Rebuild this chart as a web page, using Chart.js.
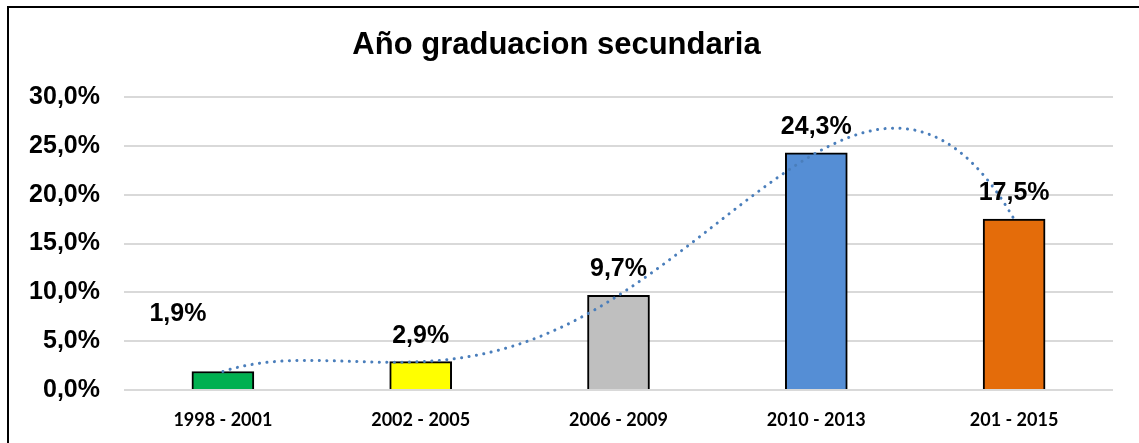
<!DOCTYPE html>
<html>
<head>
<meta charset="utf-8">
<script src="https://cdn.jsdelivr.net/npm/chart.js@4.4.1/dist/chart.umd.min.js"></script>
<style>
  html, body { margin: 0; padding: 0; background: #ffffff; }
  #wrap { width: 1139px; height: 443px; position: relative; }
</style>
</head>
<body>
<div id="wrap"><canvas id="c" width="1139" height="443"></canvas></div>
<script>
const titleText = 'Año graduacion secundaria';
const categories = ['1998 - 2001', '2002 - 2005', '2006 - 2009', '2010 - 2013', '201 - 2015'];
const values = [1.9, 2.9, 9.7, 24.3, 17.5];
const barColors = ['#00b050', '#ffff00', '#bfbfbf', '#558ed5', '#e46c0a'];
const yTicks = [0, 5, 10, 15, 20, 25, 30];

// Polynomial (order 4) least-squares trendline of the series, as the spreadsheet's trendline
function polyFit(xs, ys, order) {
  const n = order + 1;
  const A = [], b = [];
  for (let i = 0; i < n; i++) {
    A.push([]);
    for (let j = 0; j < n; j++) {
      let s = 0;
      xs.forEach(x => { s += Math.pow(x, i + j); });
      A[i].push(s);
    }
    let t = 0;
    xs.forEach((x, k) => { t += Math.pow(x, i) * ys[k]; });
    b.push(t);
  }
  for (let c = 0; c < n; c++) {
    let p = c;
    for (let r = c + 1; r < n; r++) if (Math.abs(A[r][c]) > Math.abs(A[p][c])) p = r;
    [A[c], A[p]] = [A[p], A[c]]; [b[c], b[p]] = [b[p], b[c]];
    for (let r = c + 1; r < n; r++) {
      const f = A[r][c] / A[c][c];
      for (let k = c; k < n; k++) A[r][k] -= f * A[c][k];
      b[r] -= f * b[c];
    }
  }
  const coef = new Array(n).fill(0);
  for (let r = n - 1; r >= 0; r--) {
    let s = b[r];
    for (let k = r + 1; k < n; k++) s -= A[r][k] * coef[k];
    coef[r] = s / A[r][r];
  }
  return x => coef.reduce((acc, c, i) => acc + c * Math.pow(x, i), 0);
}
const xIdx = values.map((v, i) => i);
const trendFn = polyFit(xIdx, values, 4);
const trendPoints = [];
for (let k = 0; k <= 200; k++) {
  const x = (values.length - 1) * k / 200;
  trendPoints.push({ x: x, y: trendFn(x) });
}

const fmt = v => v.toFixed(1).replace('.', ',') + '%';

const frame = {
  id: 'frame',
  beforeDraw(chart) {
    const ctx = chart.ctx;
    ctx.save();
    ctx.fillStyle = '#ffffff';
    ctx.fillRect(0, 0, chart.width, chart.height);
    ctx.strokeStyle = '#000000';
    ctx.lineWidth = 2;
    ctx.beginPath();
    ctx.moveTo(8, chart.height + 5);
    ctx.lineTo(8, 7);
    ctx.lineTo(chart.width + 5, 7);
    ctx.stroke();
    ctx.restore();
  }
};

const barLabels = {
  id: 'barLabels',
  afterDatasetsDraw(chart, args, opts) {
    const ctx = chart.ctx;
    const meta = chart.getDatasetMeta(1);
    ctx.save();
    ctx.font = 'bold 25px "Liberation Sans", Arial, sans-serif';
    ctx.fillStyle = '#000000';
    ctx.textAlign = 'center';
    ctx.textBaseline = 'middle';
    meta.data.forEach((el, i) => {
      if (i >= values.length) return;
      const off = (opts.offsets && opts.offsets[i]) || [0, -26];
      ctx.fillText(fmt(values[i]), el.x + off[0], el.y + off[1]);
    });
    ctx.restore();
  }
};

new Chart(document.getElementById('c'), {
  type: 'bar',
  data: {
    labels: categories,
    datasets: [
      {
        type: 'line',
        label: 'Tendencia',
        data: trendPoints,
        parsing: false,
        normalized: true,
        borderColor: '#4a7ebb',
        borderWidth: 3,
        borderDash: [0.1, 7.4],
        borderCapStyle: 'round',
        pointRadius: 0,
        fill: false,
        tension: 0,
        order: 0
      },
      {
        label: 'Año graduacion secundaria',
        data: values,
        backgroundColor: barColors,
        borderColor: '#000000',
        borderWidth: 2,
        borderSkipped: 'bottom',
        barThickness: 62,
        grouped: false,
        order: 1
      }
    ]
  },
  options: {
    responsive: false,
    animation: false,
    layout: { padding: { left: 0, right: 26, top: 0, bottom: 0 } },
    plugins: {
      legend: { display: false },
      tooltip: { enabled: false },
      title: {
        display: true,
        text: titleText,
        color: '#000000',
        font: { family: '"Liberation Sans", Arial, sans-serif', size: 31, weight: 'bold' },
        padding: { top: 27, bottom: 33 }
      },
      barLabels: { offsets: { 0: [-45, -57] } }
    },
    scales: {
      x: {
        type: 'category',
        offset: true,
        afterFit(scale) { scale.height = 53; },
        grid: { display: false, drawTicks: false },
        border: { display: false },
        ticks: {
          color: '#000000',
          padding: 19,
          font: { family: 'Lato, "Open Sans", sans-serif', size: 18, weight: 'bold' }
        }
      },
      y: {
        min: 0,
        max: 30,
        afterFit(scale) { scale.width = 124; },
        afterBuildTicks(scale) { scale.ticks = yTicks.map(v => ({ value: v })); },
        grid: { color: '#d9d9d9', lineWidth: 2, drawTicks: false },
        border: { display: false },
        ticks: {
          color: '#000000',
          padding: 24,
          font: { family: '"Liberation Sans", Arial, sans-serif', size: 25, weight: 'bold' },
          callback: v => fmt(v)
        }
      }
    }
  },
  plugins: [frame, barLabels]
});
</script>
</body>
</html>
